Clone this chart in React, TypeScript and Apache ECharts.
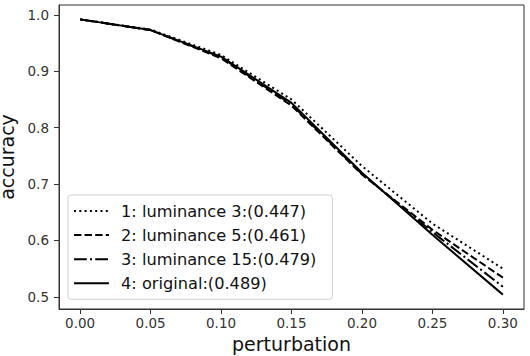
import React, { useEffect, useRef } from "react";
import * as echarts from "echarts";

const xValues = [0, 0.05, 0.1, 0.15, 0.2, 0.25, 0.3];
const lum3 = [0.992, 0.974, 0.929, 0.85, 0.732, 0.63, 0.55];
const lum5 = [0.992, 0.973, 0.923, 0.839, 0.717, 0.619, 0.534];
const lum15 = [0.992, 0.973, 0.925, 0.841, 0.718, 0.615, 0.518];
const original = [0.992, 0.973, 0.926, 0.844, 0.72, 0.61, 0.504];
const seriesNames = [
  "1: luminance 3:(0.447)",
  "2: luminance 5:(0.461)",
  "3: luminance 15:(0.479)",
  "4: original:(0.489)",
];
const xTicks = [0, 0.05, 0.1, 0.15, 0.2, 0.25, 0.3];
const yTicks = [0.5, 0.6, 0.7, 0.8, 0.9, 1.0];

const FONT = "DejaVu Sans";

export default function App() {
  const ref = useRef<HTMLDivElement>(null);
  useEffect(() => {
    document.body.style.margin = "0";
    if (!ref.current) return;
    const chart = echarts.init(ref.current, null, { renderer: "svg" });
    const allData = [lum3, lum5, lum15, original];
    const dashes: any[] = [[2, 3.3], [7.4, 3.2], [12.8, 3.2, 2, 3.2], "solid"];
    const series = allData.map((vals, i) => ({
      name: seriesNames[i],
      type: "line",
      symbol: "none",
      data: xValues.map((x, j) => [x, vals[j]]),
      lineStyle: { color: "#000", width: 2, type: dashes[i] },
      itemStyle: { color: "#000" },
    }));
    chart.setOption({
      animation: false,
      backgroundColor: "#fff",
      grid: {
        left: 59,
        right: 6,
        top: 5,
        bottom: 47,
        show: true,
        borderColor: "#333",
        borderWidth: 1,
        containLabel: false,
        outerBoundsMode: "none",
      },
      xAxis: {
        type: "value",
        min: -0.015,
        max: 0.315,
        name: "perturbation",
        nameLocation: "middle",
        nameGap: 25,
        nameTextStyle: { fontFamily: FONT, fontSize: 19, color: "#111" },
        splitLine: { show: false },
        axisLine: { show: true, onZero: false, lineStyle: { color: "#333" } },
        axisTick: { show: true, length: 5, customValues: xTicks, lineStyle: { color: "#333" } },
        axisLabel: {
          customValues: xTicks,
          formatter: (v: number) => v.toFixed(2),
          fontFamily: FONT,
          fontSize: 13.5,
          color: "#333",
          margin: 7,
        },
      },
      yAxis: {
        type: "value",
        min: 0.4785,
        max: 1.0175,
        name: "accuracy",
        nameLocation: "middle",
        nameGap: 30,
        nameTextStyle: { fontFamily: FONT, fontSize: 19, color: "#111", lineHeight: 19 },
        splitLine: { show: false },
        axisLine: { show: true, onZero: false, lineStyle: { color: "#333" } },
        axisTick: { show: true, length: 5, customValues: yTicks, lineStyle: { color: "#333" } },
        axisLabel: {
          customValues: yTicks,
          formatter: (v: number) => v.toFixed(1),
          fontFamily: FONT,
          fontSize: 13.5,
          color: "#333",
          margin: 10,
        },
      },
      legend: {
        data: seriesNames,
        orient: "vertical",
        left: 68,
        top: 195,
        itemWidth: 35,
        itemHeight: 14,
        itemGap: 8.1,
        padding: [8, 16, 8, 5],
        borderColor: "#d0d0d0",
        borderWidth: 1,
        borderRadius: 3,
        backgroundColor: "rgba(255,255,255,0.85)",
        itemStyle: { opacity: 0 },
        textStyle: { fontFamily: FONT, fontSize: 16.2, color: "#111", padding: [0, 0, 0, 7] },
      },
      series,
    });
    return () => chart.dispose();
  }, []);
  return <div ref={ref} style={{ width: 530, height: 356 }} />;
}
